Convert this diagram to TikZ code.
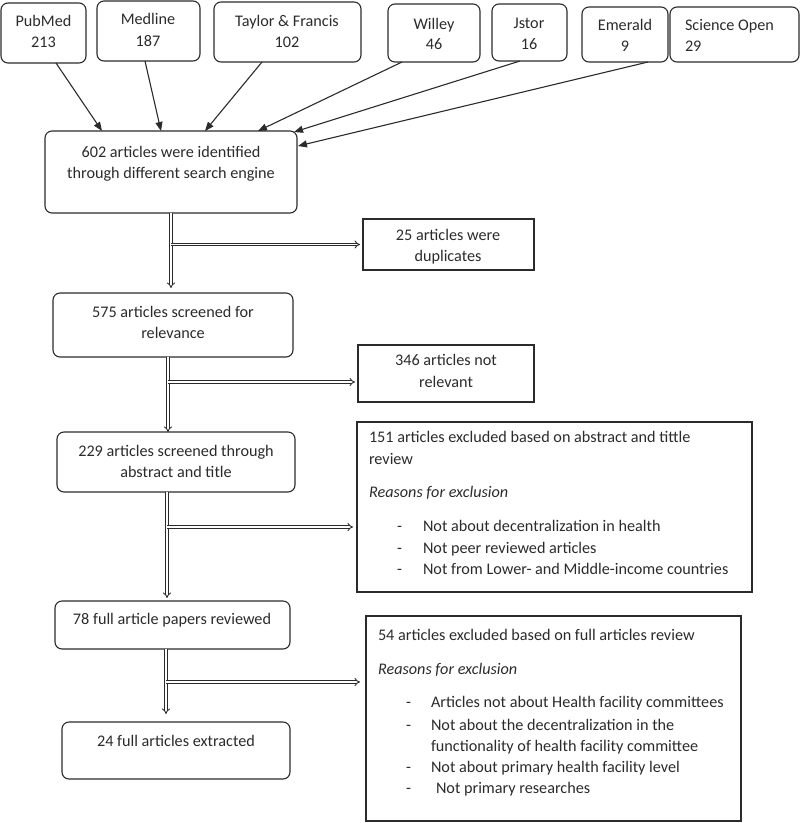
\documentclass[tikz,border=0pt]{standalone}
\usepackage{fontspec}
\setmainfont{Carlito}
\usetikzlibrary{arrows.meta,calc}
\definecolor{ink}{HTML}{2B2B2B}
\begin{document}
\begin{tikzpicture}[x=1pt,y=-1pt,
  box/.style={draw=ink,line width=1.1pt,inner sep=0pt,outer sep=0pt},
  rbox/.style={box,rounded corners=7pt},
  txt/.style={inner sep=0pt,outer sep=0pt,text=ink,font=\fontsize{16.2}{21.5}\selectfont,anchor=mid,yshift=-2.5pt},
  ltxt/.style={txt,anchor=mid west},
  arr/.style={draw=ink,line width=1.1pt,-{Triangle[length=9pt,width=7pt]}},
  darr/.style={draw=ink,double=white,double distance=1.8pt,line width=0.9pt,-{Implies}}]
\useasboundingbox (0,0) rectangle (800,823);
% top boxes
\node[rbox,minimum width=85pt,minimum height=60pt] (pub) at (43.5,33) {};
\node[rbox,minimum width=103pt,minimum height=60pt] (med) at (148.5,31) {};
\node[rbox,minimum width=147pt,minimum height=60pt] (tf) at (287.5,32) {};
\node[rbox,minimum width=92pt,minimum height=58pt] (wil) at (434,33) {};
\node[rbox,minimum width=75pt,minimum height=57pt] (jst) at (529.5,32.5) {};
\node[rbox,minimum width=86pt,minimum height=55pt] (eme) at (625,34.5) {};
\node[rbox,minimum width=129pt,minimum height=55pt] (sci) at (734.5,34.5) {};
\node[txt] (pubA) at (43.5,22) {PubMed};
\node[txt] (pubB) at (43.5,43) {213};
\node[txt] (medA) at (148,20) {Medline};
\node[txt] (medB) at (148,42) {187};
\node[txt] (tfA) at (287,22) {Taylor \& Francis};
\node[txt] (tfB) at (287,43) {102};
\node[txt] (wilA) at (434,25) {Willey};
\node[txt] (wilB) at (434,45) {46};
\node[txt] (jstA) at (529,24) {Jstor};
\node[txt] (jstB) at (529,45) {16};
\node[txt] (emeA) at (625,26) {Emerald};
\node[txt] (emeB) at (625,47) {9};
\node[ltxt] (sciA) at (685,26) {Science Open};
\node[ltxt] (sciB) at (685,47) {29};
% main column
\node[rbox,minimum width=252pt,minimum height=82pt] (b1) at (171,172) {};
\node[txt] (b1A) at (171,153) {602 articles were identified};
\node[txt] (b1B) at (171,174) {through different search engine};
\node[rbox,minimum width=240pt,minimum height=64pt] (b3) at (173,325) {};
\node[txt] (b3A) at (173,313) {575 articles screened for};
\node[txt] (b3B) at (173,334) {relevance};
\node[rbox,minimum width=238pt,minimum height=60pt] (b4) at (176,462) {};
\node[txt] (b4A) at (176,452) {229 articles screened through};
\node[txt] (b4B) at (176,473) {abstract and title};
\node[rbox,minimum width=235pt,minimum height=48pt] (b5) at (172.5,625) {};
\node[txt] (b5A) at (172,620) {78 full article papers reviewed};
\node[rbox,minimum width=228pt,minimum height=57pt] (b6) at (176,750.5) {};
\node[txt] (b6A) at (176,742) {24 full articles extracted};
% side boxes
\node[box,minimum width=171pt,minimum height=51pt] (dup) at (448.5,244.5) {};
\node[txt] (dupA) at (448,236) {25 articles were};
\node[txt] (dupB) at (448,257) {duplicates};
\node[box,minimum width=176pt,minimum height=57pt] (nr) at (446,373.5) {};
\node[txt] (nrA) at (446,361) {346 articles not};
\node[txt] (nrB) at (446,383) {relevant};
\node[box,minimum width=395pt,minimum height=170pt] (ex1) at (554.5,507) {};
\node[ltxt] (ex1A) at (369,438) {151 articles excluded based on abstract and tittle};
\node[ltxt] (ex1B) at (369,460) {review};
\node[ltxt,font=\fontsize{16.2}{21.5}\selectfont\itshape] (ex1C) at (369,493) {Reasons for exclusion};
\node[ltxt] (ex1d1) at (397,527) {-};
\node[ltxt] (ex1t1) at (423,527) {Not about decentralization in health};
\node[ltxt] (ex1d2) at (397,549) {-};
\node[ltxt] (ex1t2) at (423,549) {Not peer reviewed articles};
\node[ltxt] (ex1d3) at (397,570) {-};
\node[ltxt] (ex1t3) at (423,570) {Not from Lower- and Middle-income countries};
\node[box,minimum width=375pt,minimum height=205pt] (ex2) at (553.5,718.5) {};
\node[ltxt] (ex2A) at (378,636) {54 articles excluded based on full articles review};
\node[ltxt,font=\fontsize{16.2}{21.5}\selectfont\itshape] (ex2B) at (378,670) {Reasons for exclusion};
\node[ltxt] (ex2d1) at (406,703) {-};
\node[ltxt] (ex2t1) at (431,703) {Articles not about Health facility committees};
\node[ltxt] (ex2d2) at (406,726) {-};
\node[ltxt] (ex2t2) at (431,726) {Not about the decentralization in the};
\node[ltxt] (ex2t2b) at (431,747) {functionality of health facility committee};
\node[ltxt] (ex2d3) at (406,768) {-};
\node[ltxt] (ex2t3) at (431,768) {Not about primary health facility level};
\node[ltxt] (ex2d4) at (406,789) {-};
\node[ltxt] (ex2t4) at (436,789) {Not primary researches};
% arrows from sources
\draw[arr] ([xshift=12.5pt]pub.south) -- ([xshift=-69pt]b1.north);
\draw[arr] ([xshift=-3.5pt]med.south) -- ([xshift=-10pt]b1.north);
\draw[arr] ([xshift=-25.5pt]tf.south) -- ([xshift=34pt]b1.north);
\draw[arr] ([xshift=-32pt]wil.south) -- ([xshift=87pt]b1.north);
\draw[arr] ([xshift=-9.5pt]jst.south) -- ([xshift=-3pt,yshift=-1pt]b1.north east);
\draw[arr] ([xshift=23pt]eme.south) -- ([xshift=1pt,yshift=26pt]b1.east);
% double arrows
\coordinate (v1) at (b1.south);
\draw[darr,shorten >=5pt] (v1) -- (v1 |- b3.north);
\draw[darr] (v1 |- dup.west) -- ([xshift=-3pt]dup.west);
\coordinate (v2) at ([xshift=-5pt]b3.south);
\draw[darr] (v2) -- (v2 |- b4.north);
\draw[darr] (v2 |- 0,382) -- ([xshift=-3pt,yshift=-8.5pt]nr.west);
\coordinate (v3) at ([xshift=-9pt]b4.south);
\draw[darr] (v3) -- (v3 |- 0,598);
\draw[darr] (v3 |- 0,527) -- ([xshift=-4pt,yshift=-20pt]ex1.west);
\coordinate (v4) at ([xshift=-6.5pt]b5.south);
\draw[darr] (v4) -- (v4 |- 0,714);
\draw[darr] (v4 |- 0,682) -- ([xshift=-6pt,yshift=36.5pt]ex2.west);
\end{tikzpicture}
\end{document}
